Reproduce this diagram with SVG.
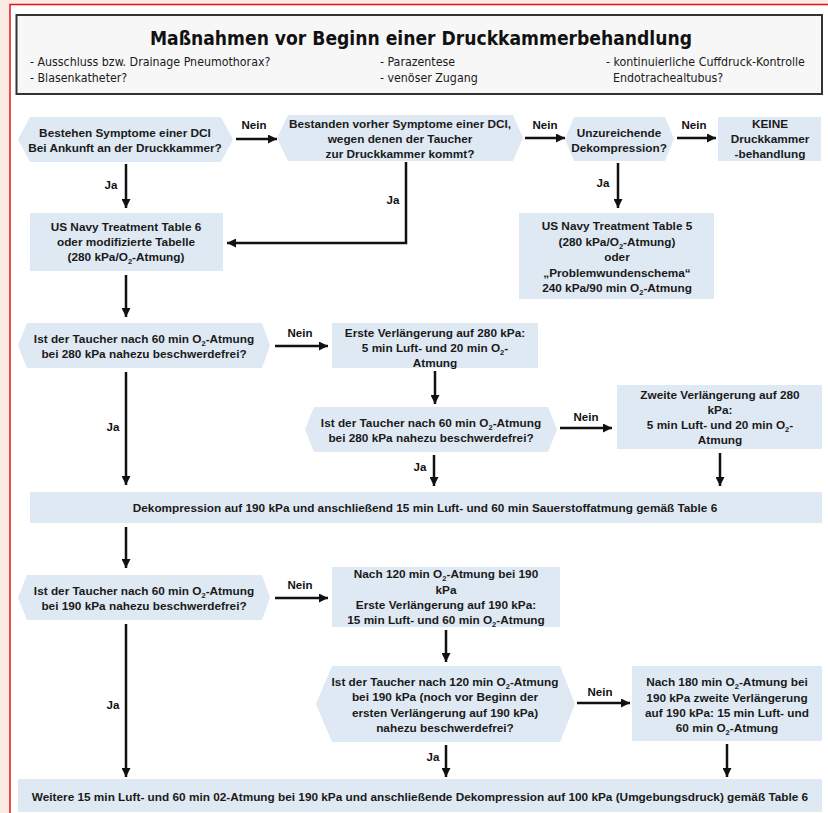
<svg xmlns="http://www.w3.org/2000/svg" width="828" height="813" viewBox="0 0 828 813">
<defs>
<marker id="ah" viewBox="0 0 10 10" refX="10" refY="5" markerWidth="3.6" markerHeight="3.6" orient="auto" markerUnits="strokeWidth">
<path d="M0,0 L10,5 L0,10 Z" fill="#111"/>
</marker>
<style>
.n{fill:#dfe9f3;stroke:none}
.t{font-family:"Liberation Sans",Arial,sans-serif;font-weight:bold;font-size:11.8px;fill:#1a1a1a;text-anchor:middle}
.s{font-size:7.5px}
.lb{font-family:"Liberation Sans",Arial,sans-serif;font-weight:bold;font-size:11.5px;fill:#111;text-anchor:middle}
.c{fill:none;stroke:#111;stroke-width:2.5;marker-end:url(#ah)}
.h{font-family:"DejaVu Sans Condensed","DejaVu Sans",sans-serif;font-size:12.3px;fill:#1a1a1a}
</style>
</defs>
<rect x="0" y="0" width="828" height="813" fill="#fcebe3"/>
<rect x="10" y="4.5" width="830" height="820" fill="#ffffff" stroke="#e8101e" stroke-width="1.5"/>

<g id="header">
<rect x="16.5" y="15" width="805.5" height="79" fill="#f7f7f7" stroke="#333" stroke-width="2"/>
<text x="421" y="45" text-anchor="middle" font-family="'DejaVu Sans Condensed','DejaVu Sans',sans-serif" font-weight="bold" font-size="20" fill="#111" textLength="542" lengthAdjust="spacingAndGlyphs">Maßnahmen vor Beginn einer Druckkammerbehandlung</text>
<text class="h" x="30" y="66">- Ausschluss bzw. Drainage Pneumothorax?</text>
<text class="h" x="30" y="82">- Blasenkatheter?</text>
<text class="h" x="380" y="66">- Parazentese</text>
<text class="h" x="380" y="82">- venöser Zugang</text>
<text class="h" x="606" y="66">- kontinuierliche Cuffdruck-Kontrolle</text>
<text class="h" x="613" y="82">Endotrachealtubus?</text>
</g>

<g id="n1">
<polygon class="n" points="18,139.5 30,117 221,117 233,139.5 221,162 30,162"/>
<text class="t" x="125" y="137">Bestehen Symptome einer DCI</text>
<text class="t" x="125" y="152">Bei Ankunft an der Druckkammer?</text>
</g>
<g id="n2">
<polygon class="n" points="277,138 288,115 513,115 523,138 513,161 288,161"/>
<text class="t" x="400" y="128">Bestanden vorher Symptome einer DCI,</text>
<text class="t" x="400" y="143">wegen denen der Taucher</text>
<text class="t" x="400" y="158">zur Druckkammer kommt?</text>
</g>
<g id="n3">
<polygon class="n" points="565,139 574,117 665,117 674,139 665,161 574,161"/>
<text class="t" x="619" y="137">Unzureichende</text>
<text class="t" x="619" y="152">Dekompression?</text>
</g>
<g id="n4">
<rect class="n" x="718" y="117" width="103" height="44"/>
<text class="t" x="770" y="128">KEINE</text>
<text class="t" x="770" y="143">Druckkammer</text>
<text class="t" x="770" y="158">-behandlung</text>
</g>
<g id="n5">
<rect class="n" x="30" y="213" width="193" height="58"/>
<text class="t" x="126" y="231">US Navy Treatment Table 6</text>
<text class="t" x="126" y="246">oder modifizierte Tabelle</text>
<text class="t" x="126" y="261">(280 kPa/O<tspan class="s" dy="3">2</tspan><tspan dy="-3">-Atmung)</tspan></text>
</g>
<g id="n6">
<rect class="n" x="519" y="213" width="195" height="86"/>
<text class="t" x="617" y="230">US Navy Treatment Table 5</text>
<text class="t" x="617" y="246">(280 kPa/O<tspan class="s" dy="3">2</tspan><tspan dy="-3">-Atmung)</tspan></text>
<text class="t" x="617" y="261">oder</text>
<text class="t" x="617" y="277">„Problemwundenschema“</text>
<text class="t" x="617" y="292">240 kPa/90 min O<tspan class="s" dy="3">2</tspan><tspan dy="-3">-Atmung</tspan></text>
</g>
<g id="n7">
<polygon class="n" points="18,345.5 27,323 262,323 270,345.5 262,368 27,368"/>
<text class="t" x="144" y="343">Ist der Taucher nach 60 min O<tspan class="s" dy="3">2</tspan><tspan dy="-3">-Atmung</tspan></text>
<text class="t" x="144" y="358">bei 280 kPa nahezu beschwerdefrei?</text>
</g>
<g id="n8">
<rect class="n" x="332" y="323" width="206" height="45"/>
<text class="t" x="435" y="337">Erste Verlängerung auf 280 kPa:</text>
<text class="t" x="435" y="352">5 min Luft- und 20 min O<tspan class="s" dy="3">2</tspan><tspan dy="-3">-</tspan></text>
<text class="t" x="435" y="367">Atmung</text>
</g>
<g id="n9">
<polygon class="n" points="305,429.5 314,407 548,407 557,429.5 548,452 314,452"/>
<text class="t" x="431" y="427">Ist der Taucher nach 60 min O<tspan class="s" dy="3">2</tspan><tspan dy="-3">-Atmung</tspan></text>
<text class="t" x="431" y="442">bei 280 kPa nahezu beschwerdefrei?</text>
</g>
<g id="n10">
<rect class="n" x="617" y="385" width="205" height="64"/>
<text class="t" x="720" y="399">Zweite Verlängerung auf 280</text>
<text class="t" x="720" y="414">kPa:</text>
<text class="t" x="720" y="429">5 min Luft- und 20 min O<tspan class="s" dy="3">2</tspan><tspan dy="-3">-</tspan></text>
<text class="t" x="720" y="444">Atmung</text>
</g>
<g id="n11">
<rect class="n" x="30" y="492" width="792" height="31"/>
<text class="t" x="425" y="512">Dekompression auf 190 kPa und anschließend 15 min Luft- und 60 min Sauerstoffatmung gemäß Table 6</text>
</g>
<g id="n12">
<polygon class="n" points="18,597.5 27,575 262,575 270,597.5 262,620 27,620"/>
<text class="t" x="144" y="595">Ist der Taucher nach 60 min O<tspan class="s" dy="3">2</tspan><tspan dy="-3">-Atmung</tspan></text>
<text class="t" x="144" y="610">bei 190 kPa nahezu beschwerdefrei?</text>
</g>
<g id="n13">
<rect class="n" x="332" y="567" width="228" height="60"/>
<text class="t" x="446" y="578">Nach 120 min O<tspan class="s" dy="2.5">2</tspan><tspan dy="-2.5">-Atmung bei 190</tspan></text>
<text class="t" x="446" y="593.5">kPa</text>
<text class="t" x="446" y="609">Erste Verlängerung auf 190 kPa:</text>
<text class="t" x="446" y="624">15 min Luft- und 60 min O<tspan class="s" dy="3">2</tspan><tspan dy="-3">-Atmung</tspan></text>
</g>
<g id="n14">
<polygon class="n" points="316,704 332,666 560,666 575,704 560,742 332,742"/>
<text class="t" x="445" y="686">Ist der Taucher nach 120 min O<tspan class="s" dy="3">2</tspan><tspan dy="-3">-Atmung</tspan></text>
<text class="t" x="445" y="701">bei 190 kPa (noch vor Beginn der</text>
<text class="t" x="445" y="717">ersten Verlängerung auf 190 kPa)</text>
<text class="t" x="445" y="732">nahezu beschwerdefrei?</text>
</g>
<g id="n15">
<rect class="n" x="632" y="666" width="190" height="75"/>
<text class="t" x="727" y="686">Nach 180 min O<tspan class="s" dy="3">2</tspan><tspan dy="-3">-Atmung bei</tspan></text>
<text class="t" x="727" y="702">190 kPa zweite Verlängerung</text>
<text class="t" x="727" y="717">auf 190 kPa: 15 min Luft- und</text>
<text class="t" x="727" y="732">60 min O<tspan class="s" dy="3">2</tspan><tspan dy="-3">-Atmung</tspan></text>
</g>
<g id="n16">
<rect class="n" x="18" y="779" width="804" height="33"/>
<text class="t" x="420" y="801">Weitere 15 min Luft- und 60 min 02-Atmung bei 190 kPa und anschließende Dekompression auf 100 kPa (Umgebungsdruck) gemäß Table 6</text>
</g>

<g id="connectors">
<path class="c" d="M236,139 H277"/>
<path class="c" d="M525,138 H565"/>
<path class="c" d="M677,138 H716"/>
<path class="c" d="M126,164 V208"/>
<path class="c" d="M406,162 V243 H227"/>
<path class="c" d="M618,163 V208"/>
<path class="c" d="M126,275 V317"/>
<path class="c" d="M275,346 H328"/>
<path class="c" d="M435,371 V404"/>
<path class="c" d="M560,428 H612"/>
<path class="c" d="M126,372 V485"/>
<path class="c" d="M434,455 V486"/>
<path class="c" d="M720,453 V486"/>
<path class="c" d="M126,527 V568"/>
<path class="c" d="M275,598 H328"/>
<path class="c" d="M446,630 V662"/>
<path class="c" d="M577,703 H630"/>
<path class="c" d="M126,624 V777"/>
<path class="c" d="M446,745 V777"/>
<path class="c" d="M727,744 V777"/>
<text class="lb" x="254" y="129">Nein</text>
<text class="lb" x="545" y="129">Nein</text>
<text class="lb" x="694" y="129">Nein</text>
<text class="lb" x="111" y="189">Ja</text>
<text class="lb" x="393" y="204">Ja</text>
<text class="lb" x="603" y="187">Ja</text>
<text class="lb" x="300" y="337">Nein</text>
<text class="lb" x="586" y="421">Nein</text>
<text class="lb" x="113" y="431">Ja</text>
<text class="lb" x="420" y="471">Ja</text>
<text class="lb" x="300" y="589">Nein</text>
<text class="lb" x="600" y="696">Nein</text>
<text class="lb" x="113" y="709">Ja</text>
<text class="lb" x="433" y="761">Ja</text>
</g>
</svg>
